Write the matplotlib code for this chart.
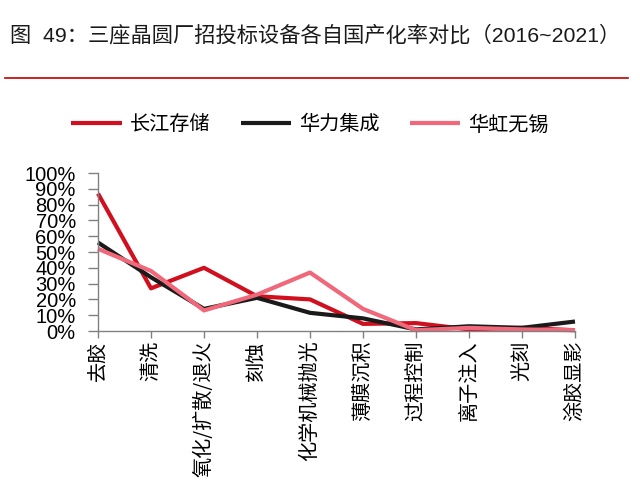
import numpy as np
import matplotlib
matplotlib.use('Agg')
import matplotlib.pyplot as plt
from matplotlib.ticker import PercentFormatter

plt.rcParams['font.family'] = ['Liberation Sans', 'Noto Sans CJK SC', 'DejaVu Sans']

# Datos
categorias = ['去胶', '清洗', '氧化/扩散/退火', '刻蚀', '化学机械抛光',
              '薄膜沉积', '过程控制', '离子注入', '光刻', '涂胶显影']
changjiang = [87, 27, 40, 22, 20, 4.5, 5, 1, 2, 0.5]
huali = [56, 34, 14, 21, 11.5, 8, 1, 3, 2, 6]
huahong = [52, 38, 13, 23, 37, 14, 0.5, 2, 1, 0.5]
series = ['长江存储', '华力集成', '华虹无锡']
colores = ['#D0101E', '#1A1A1A', '#F0687A']

fig = plt.figure(figsize=(6.4, 4.98), dpi=100)

# Título y línea roja
fig.text(10 / 640, 1 - 35 / 498, '图  49：三座晶圆厂招投标设备各自国产化率对比（2016~2021）',
         fontsize=15.3, ha='left', va='center', color='#1a1a1a')
fig.add_artist(plt.Line2D([5 / 640, 628 / 640], [1 - 78 / 498, 1 - 78 / 498],
                          color='#C00000', linewidth=1.2))

ax = fig.add_axes([98 / 640, 1 - 331 / 498, (575 - 98) / 640, (331 - 173) / 498])
x = np.arange(len(categorias))
for valores, nombre, color in zip([changjiang, huali, huahong], series, colores):
    ax.plot(x, valores, color=color, linewidth=3, label=nombre, solid_capstyle='butt')

ax.set_xlim(0, len(categorias) - 1)
ax.set_ylim(0, 100)
ax.set_yticks(np.arange(0, 101, 10))
ax.yaxis.set_major_formatter(PercentFormatter(decimals=0))
ax.set_xticks(x)
ax.set_xticklabels(categorias, rotation=90, fontsize=14.5, ha='center', va='top',
                   family=['Noto Sans CJK SC', 'DejaVu Sans'])
for lbl in ax.get_yticklabels():
    lbl.set_fontsize(14.5)
ax.tick_params(axis='x', direction='out', length=5, color='#808080', width=1, pad=2)
ax.tick_params(axis='y', direction='out', length=7, color='#808080', width=1, pad=9)

for lado in ['top', 'right']:
    ax.spines[lado].set_visible(False)
for lado in ['left', 'bottom']:
    ax.spines[lado].set_color('#808080')
    ax.spines[lado].set_linewidth(1)
for l in ax.lines:
    l.set_clip_on(False)

fig.legend(loc='center', bbox_to_anchor=(310 / 640, 1 - 125 / 498), ncol=3, frameon=False,
           handlelength=2.5, handletextpad=0.4, columnspacing=1.5,
           prop={'family': ['Noto Sans CJK SC', 'DejaVu Sans'], 'size': 14.5})

fig.savefig('out.png', dpi=100)
